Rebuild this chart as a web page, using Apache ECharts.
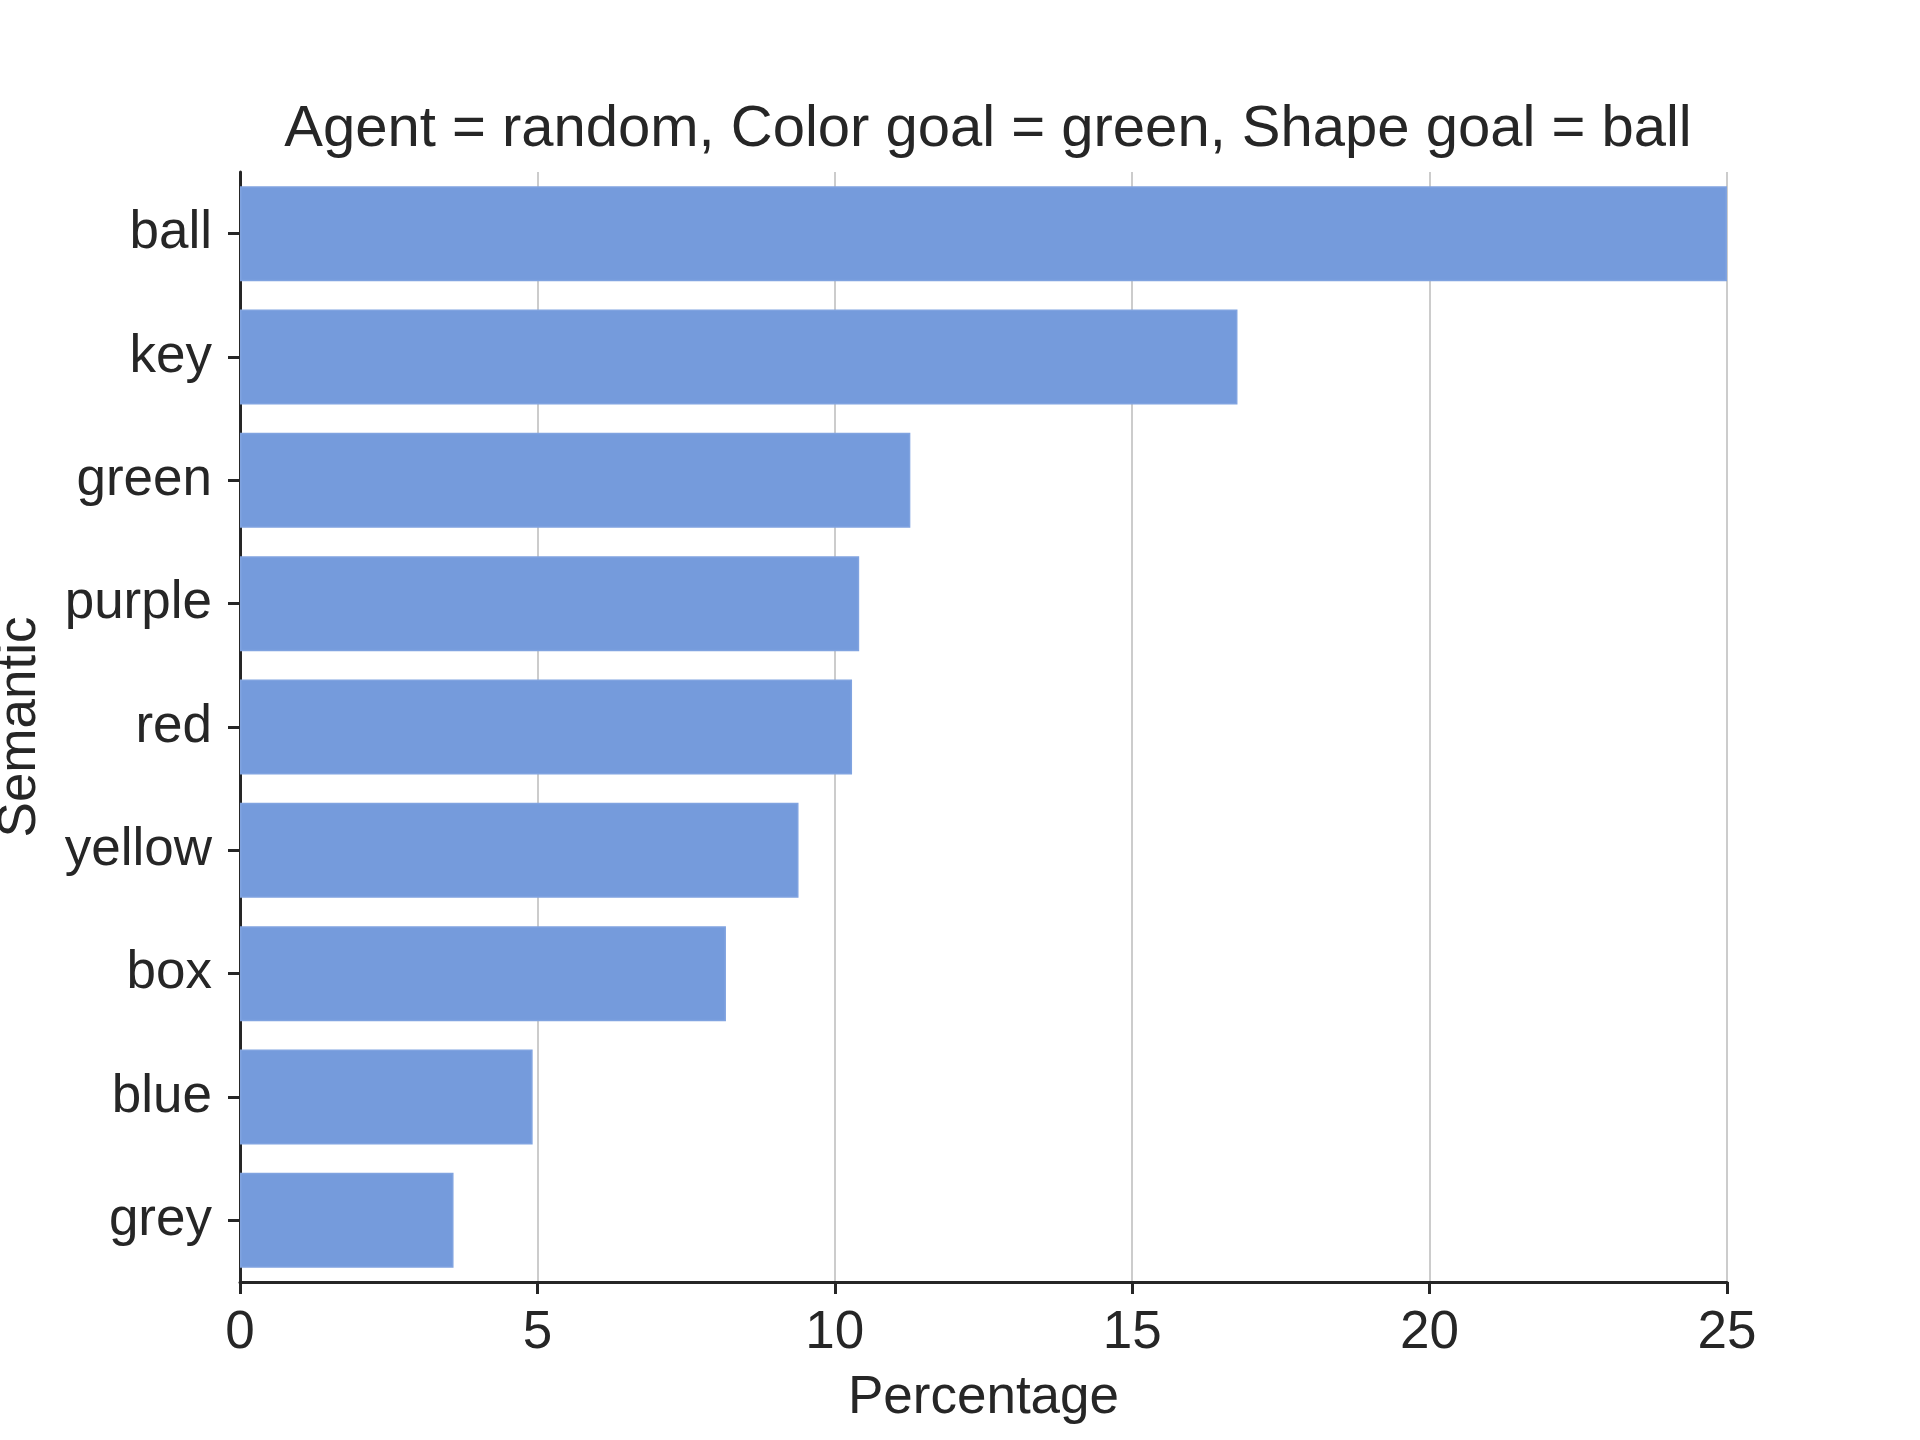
<!DOCTYPE html>
<html>
<head>
<meta charset="utf-8">
<script src="https://cdn.jsdelivr.net/npm/echarts@6/dist/echarts.min.js"></script>
<style>html,body{margin:0;padding:0;background:#fff}#c{width:1920px;height:1440px}</style>
</head>
<body>
<div id="c"></div>
<script>
const categories = ['ball', 'key', 'green', 'purple', 'red', 'yellow', 'box', 'blue', 'grey'];
const percentages = [25.0, 16.77, 11.27, 10.41, 10.29, 9.39, 8.17, 4.92, 3.59];
const xTicks = [0, 5, 10, 15, 20, 25];
const titleText = 'Agent = random, Color goal = green, Shape goal = ball';

const chart = echarts.init(document.getElementById('c'), null, {renderer: 'canvas'});
const txt = '#262626';
const font = '"Liberation Sans", Arial, sans-serif';
chart.setOption({
  backgroundColor: '#ffffff',
  animation: false,
  title: {
    text: titleText,
    left: 983, top: 96, textAlign: 'center',
    textStyle: {fontFamily: font, fontSize: 58, fontWeight: 'normal', color: txt}
  },
  grid: {left: 240, right: 193, top: 172, bottom: 158, containLabel: false, outerBoundsMode: 'none'},
  xAxis: {
    type: 'value', min: xTicks[0], max: xTicks[xTicks.length - 1], interval: 5,
    name: 'Percentage', nameLocation: 'middle', nameGap: 90,
    nameTextStyle: {fontFamily: font, fontSize: 53, color: txt},
    axisLine: {show: true, lineStyle: {color: txt, width: 3}},
    axisTick: {show: true, length: 12, lineStyle: {color: txt, width: 3}},
    axisLabel: {fontFamily: font, fontSize: 53, color: txt, margin: 25},
    splitLine: {show: true, lineStyle: {color: '#cccccc', width: 2}}
  },
  yAxis: {
    type: 'category', data: categories, inverse: true,
    name: 'Semantic', nameLocation: 'middle', nameGap: 193, nameRotate: 90,
    nameTextStyle: {fontFamily: font, fontSize: 53, color: txt},
    axisLine: {show: true, lineStyle: {color: txt, width: 3}},
    axisTick: {show: true, length: 12, alignWithLabel: true, lineStyle: {color: txt, width: 3}},
    axisLabel: {fontFamily: font, fontSize: 53, color: txt, margin: 28},
    splitLine: {show: false}
  },
  series: [{
    type: 'bar', data: percentages, barWidth: '77%',
    itemStyle: {color: '#759bdc', borderColor: '#80a3e0', borderWidth: 1.5},
    z: 1
  }]
});
</script>
</body>
</html>
